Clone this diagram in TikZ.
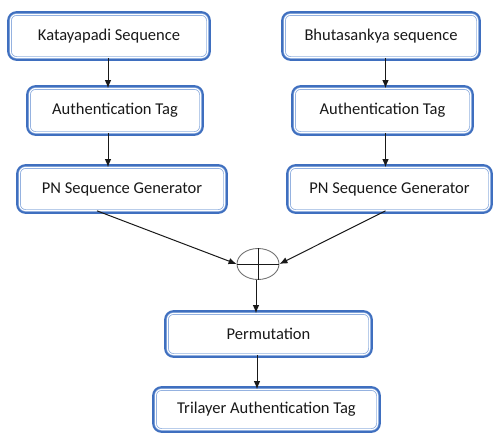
\documentclass[tikz,border=0pt]{standalone}
\usepackage{fontspec}
\setmainfont{Carlito}
\usetikzlibrary{shapes.geometric, arrows.meta}
\definecolor{boxblue}{HTML}{3F6FBF}
\definecolor{innerblue}{HTML}{86A8DC}
\tikzset{
  tagbox/.style={draw=innerblue, line width=0.7pt, double=white, double distance=1.1pt,
    preaction={draw=boxblue, line width=6.6pt, rounded corners=6pt},
    fill=white, rounded corners=6pt, inner sep=0pt, text=black!90,
    font=\fontsize{16.5}{19}\selectfont},
  arr/.style={-{Latex[length=8pt, width=6.5pt]}, black!90, line width=1pt},
}
\begin{document}
\begin{tikzpicture}[x=1pt, y=-1pt]
            \useasboundingbox (0,0) rectangle (493,434);
            % left branch
            \node [tagbox, minimum width=197pt, minimum height=43pt] (kata) at (109,36) {Katayapadi Sequence};
            \node [tagbox, minimum width=171pt, minimum height=44pt] (auth1) at (115,110.5) {Authentication Tag};
            \node [tagbox, minimum width=205pt, minimum height=43pt] (pn1) at (122,189) {PN Sequence Generator};
            % right branch
            \node [tagbox, minimum width=193pt, minimum height=43pt] (bhuta) at (381,36) {Bhutasankya sequence};
            \node [tagbox, minimum width=176pt, minimum height=44pt] (auth2) at (382.5,110.5) {Authentication Tag};
            \node [tagbox, minimum width=200pt, minimum height=43pt] (pn2) at (389.5,189) {PN Sequence Generator};
            % combining
            \node [ellipse, draw=black!55, line width=0.9pt, minimum width=42pt, minimum height=31pt, inner sep=0pt] (xor) at (258,264) {};
            \draw [black!90, line width=0.9pt] (xor.north) -- (xor.south);
            \draw [black!90, line width=0.9pt] (xor.west) -- (xor.east);
            \node [tagbox, minimum width=202pt, minimum height=41pt] (perm) at (268.5,334) {Permutation};
            \node [tagbox, minimum width=222pt, minimum height=40pt] (tri) at (266.5,409.5) {Trilayer Authentication Tag};
            % connectors
            \draw [arr] ([xshift=-1pt]kata.south) -- ([xshift=-1pt]kata.south |- auth1.north);
            \draw [arr] ([xshift=-1pt]auth1.south -| kata.south) -- ([xshift=-1pt]kata.south |- pn1.north);
            \draw [arr] ([xshift=3pt]bhuta.south -| auth2.north) -- ([xshift=3pt]auth2.north);
            \draw [arr] ([xshift=3pt]auth2.south) -- ([xshift=3pt]auth2.south |- pn2.north);
            \draw [arr] ([xshift=-25pt]pn1.south) -- (xor.west);
            \draw [arr] ([xshift=-4pt]pn2.south) -- (xor.east);
            \draw [arr] ([xshift=-2pt]xor.south) -- ([xshift=-2pt]xor.south |- perm.north);
            \draw [arr] ([xshift=-1pt]perm.south -| xor.south) -- ([xshift=-1pt]xor.south |- tri.north);
\end{tikzpicture}
\end{document}
